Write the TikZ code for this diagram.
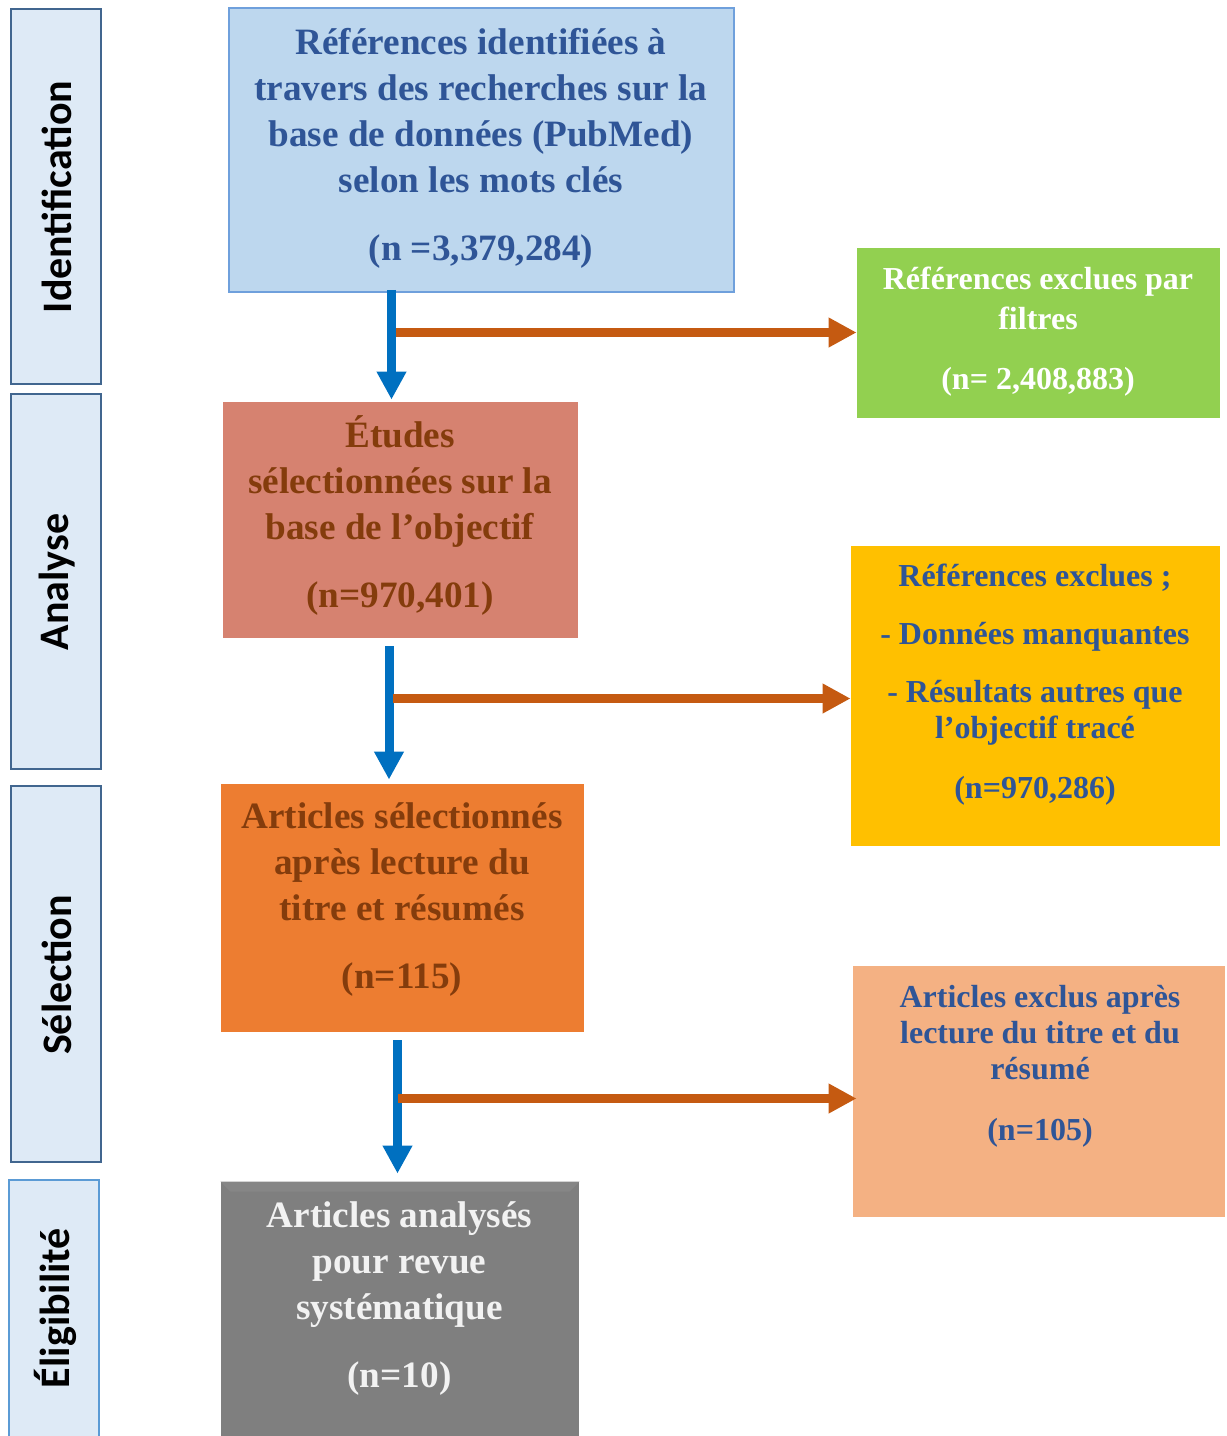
\documentclass[tikz,border=0pt]{standalone}
\usepackage{fontspec}
\setmainfont{Liberation Serif}
\newfontfamily\stagefont{Carlito}
\usetikzlibrary{arrows.meta}
\definecolor{stagefill}{HTML}{DEEAF6}
\definecolor{stageline}{HTML}{41668F}
\definecolor{stagelinelight}{HTML}{5B9BD5}
\definecolor{topfill}{HTML}{BDD7EE}
\definecolor{topline}{HTML}{6FA0DC}
\definecolor{darkblue}{HTML}{2F5597}
\definecolor{salmon}{HTML}{D68270}
\definecolor{brown}{HTML}{843C0C}
\definecolor{orangefill}{HTML}{ED7D31}
\definecolor{grayfill}{HTML}{7F7F7F}
\definecolor{graylight}{HTML}{868686}
\definecolor{greenfill}{HTML}{92D050}
\definecolor{yellowfill}{HTML}{FFC000}
\definecolor{peach}{HTML}{F4B183}
\definecolor{arrblue}{HTML}{0070C0}
\definecolor{arrorange}{HTML}{C55A11}
\begin{document}
\begin{tikzpicture}[x=0.5pt,y=-0.5pt,
  stagebox/.style={draw=stageline, line width=0.75pt, fill=stagefill, minimum width=45pt, inner sep=0pt},
  stagetxt/.style={rotate=90, font=\stagefont\bfseries\fontsize{21}{25}\selectfont, inner sep=0pt},
  mainbox/.style={rectangle, inner sep=0pt},
  maintxt/.style={font=\bfseries\fontsize{18.6}{23}\selectfont, align=center, inner sep=0pt},
  sidetxt/.style={font=\bfseries\fontsize{16}{18}\selectfont, align=center, inner sep=0pt},
  downarr/.style={draw=arrblue, line width=4.5pt, -{Triangle[length=14pt,width=14pt]}},
  sidearr/.style={draw=arrorange, line width=4.5pt, -{Triangle[length=14pt,width=14pt]}}
]
\useasboundingbox (0,0) rectangle (1227,1436);
\clip (0,0) rectangle (1227,1436);

% stage boxes
\node[stagebox, minimum height=187.5pt] (s1) at (56,196.5) {};
\node[stagebox, minimum height=187.5pt] (s2) at (56,581.5) {};
\node[stagebox, minimum height=188pt] (s3) at (56,974) {};
\node[stagebox, draw=stagelinelight, minimum height=135pt] (s4) at (54,1315) {};
\node[stagetxt] (l1) at (57,197) {Identification};
\node[stagetxt] (l2) at (57,582) {Analyse};
\node[stagetxt] (l3) at (57,975) {Sélection};
\node[stagetxt] (l4) at (55,1308) {Éligibilité};

% main boxes
\node[mainbox, draw=topline, line width=0.75pt, fill=topfill, minimum width=252.5pt, minimum height=142pt] (b1) at (481.5,150) {};
\node[mainbox, fill=salmon, minimum width=177.5pt, minimum height=118pt] (b2) at (400.5,520) {};
\node[mainbox, fill=orangefill, minimum width=181.5pt, minimum height=124pt] (b3) at (402.5,908) {};
\node[mainbox, fill=grayfill, minimum width=179pt, minimum height=135pt] (b4) at (400,1317) {};
\fill[graylight] (b4.north west) -- (b4.north east) -- ([xshift=-5pt,yshift=-5pt]b4.north east) -- ([xshift=5pt,yshift=-5pt]b4.north west) -- cycle;

% side boxes
\node[mainbox, fill=greenfill, minimum width=181.5pt, minimum height=85pt] (b5) at (1038.5,333) {};
\node[mainbox, fill=yellowfill, minimum width=184.5pt, minimum height=150pt] (b6) at (1035.5,696) {};
\node[mainbox, fill=peach, minimum width=186pt, minimum height=125.5pt] (b7) at (1039,1091.5) {};

% texts
\node[maintxt, text=darkblue] (t1) at (481,148) {Références identifiées à\\ travers des recherches sur la\\ base de données (PubMed)\\ selon les mots clés\\[11pt] (n =3,379,284)};
\node[maintxt, text=brown] (t2) at (400,515) {Études\\ sélectionnées sur la\\ base de l’objectif\\[11pt] (n=970,401)};
\node[maintxt, text=brown] (t3) at (402,900) {Articles sélectionnés\\ après lecture du\\ titre et résumés\\[11pt] (n=115)};
\node[maintxt, text=white!95!black] (t4) at (399.5,1299) {Articles analysés\\ pour revue\\ systématique\\[11pt] (n=10)};
\node[sidetxt, font=\bfseries\fontsize{16}{20}\selectfont, text=white] (t5) at (1038,332) {Références exclues par\\ filtres\\[10pt] (n= 2,408,883)};
\node[sidetxt, text=darkblue] (t6) at (1035,685) {Références exclues ;\\[11pt] - Données manquantes\\[11pt] - Résultats autres que\\ l’objectif tracé\\[12pt] (n=970,286)};
\node[sidetxt, text=darkblue] (t7) at (1040,1066.5) {Articles exclus après\\ lecture du titre et du\\ résumé\\[12.5pt] (n=105)};

% arrow anchors
\coordinate (x1) at (391.5,0);
\coordinate (x2) at (389,0);
\coordinate (x3) at (397.5,0);
\coordinate (o1) at (396,332.5);
\coordinate (o2) at (393,698.5);
\coordinate (o3) at (398,1098.5);

% blue down arrows
\draw[downarr] ([yshift=1.5pt]b1.south -| x1) -- ([yshift=1pt]b2.north -| x1);
\draw[downarr] ([yshift=-4pt]b2.south -| x2) -- ([yshift=2pt]b3.north -| x2);
\draw[downarr] ([yshift=-4pt]b3.south -| x3) -- ([yshift=4pt]b4.north -| x3);

% orange side arrows
\draw[sidearr] (o1) -- (o1 -| b5.west);
\draw[sidearr] (o2) -- (o2 -| b6.west);
\draw[sidearr] (o3) -- ([xshift=2pt]o3 -| b7.west);
\end{tikzpicture}
\end{document}
